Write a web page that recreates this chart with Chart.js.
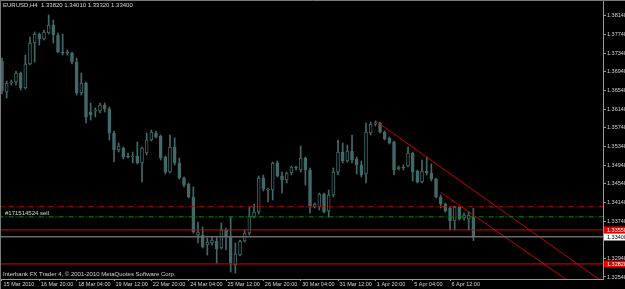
<!DOCTYPE html>
<html><head><meta charset="utf-8">
<script src="https://cdn.jsdelivr.net/npm/chart.js@4/dist/chart.umd.min.js"></script>
<style>html,body{margin:0;padding:0;background:#000;overflow:hidden}#wrap{width:625px;height:289px;position:relative}canvas{display:block}</style>
</head><body><div id="wrap"><canvas id="c" width="625" height="289"></canvas></div>
<script>
const symbolTitle = "EURUSD,H4";
const opens = [1.37169,1.36504,1.36697,1.36719,1.36912,1.36590,1.37104,1.37555,1.37747,1.37640,
1.37769,1.37940,1.37726,1.37362,1.37362,1.37340,1.37147,1.36483,1.36697,1.36076,
1.36097,1.36097,1.36226,1.36140,1.35626,1.35262,1.35304,1.35133,1.35111,1.35133,
1.34983,1.35197,1.35476,1.35626,1.35562,1.35111,1.34790,1.35326,1.34983,1.34661,
1.34533,1.34254,1.33440,1.33440,1.33226,1.33269,1.33311,1.33161,1.33547,1.33397,
1.32797,1.33011,1.33311,1.33483,1.33826,1.33933,1.34661,1.34404,1.34404,1.34983,
1.34704,1.34619,1.34769,1.34897,1.34833,1.35090,1.34833,1.34040,1.34040,1.34319,
1.33954,1.34297,1.34790,1.35219,1.35026,1.35240,1.35069,1.34940,1.34747,1.35626,
1.35819,1.35840,1.35647,1.35519,1.35433,1.34854,1.34897,1.34919,1.35197,1.34811,
1.34576,1.34811,1.34769,1.34640,1.34254,1.34104,1.34019,1.33740,1.34040,1.33804,
1.33783,1.33820];
const highs = [1.37233,1.36740,1.36762,1.36954,1.36933,1.37297,1.37683,1.37790,1.37769,1.37833,
1.38155,1.38047,1.37769,1.37747,1.37405,1.37362,1.37233,1.36912,1.36719,1.36269,
1.36162,1.36269,1.36269,1.36183,1.35669,1.35412,1.35326,1.35197,1.35219,1.35433,
1.35326,1.35626,1.35690,1.35669,1.35583,1.35133,1.35583,1.35519,1.35090,1.34683,
1.34554,1.34469,1.33719,1.33611,1.33376,1.33397,1.33397,1.33697,1.33590,1.33826,
1.33269,1.33333,1.33547,1.34040,1.34104,1.34704,1.34726,1.34447,1.35004,1.35026,
1.34790,1.34790,1.34919,1.34919,1.35347,1.35111,1.34876,1.34126,1.34340,1.34340,
1.34404,1.34876,1.35476,1.35412,1.35369,1.35583,1.35111,1.35026,1.35840,1.35862,
1.35883,1.35862,1.35669,1.35540,1.35454,1.34919,1.34940,1.35326,1.35219,1.34833,
1.35047,1.35111,1.34961,1.34661,1.34297,1.34126,1.34040,1.34061,1.34061,1.33911,
1.33933,1.34010];
const lows = [1.36462,1.36376,1.36654,1.36654,1.36547,1.36569,1.37083,1.37147,1.37512,1.37619,
1.37747,1.37555,1.37340,1.37297,1.37297,1.37104,1.36440,1.36440,1.35840,1.35904,
1.35969,1.36054,1.36076,1.35476,1.35004,1.35219,1.35069,1.35090,1.34983,1.34961,
1.34576,1.35154,1.35454,1.35519,1.35047,1.34747,1.34769,1.34940,1.34640,1.34469,
1.34233,1.33483,1.33269,1.33161,1.33011,1.33226,1.32840,1.33140,1.33119,1.32647,
1.32626,1.32990,1.33290,1.33440,1.33804,1.33890,1.34383,1.34147,1.34190,1.34683,
1.34340,1.34554,1.34726,1.34833,1.34790,1.34511,1.33911,1.34019,1.33976,1.33911,
1.33826,1.34254,1.34726,1.34983,1.35004,1.34983,1.34747,1.34683,1.34554,1.35583,
1.35776,1.35626,1.35476,1.35390,1.34726,1.34833,1.34833,1.34897,1.34597,1.34554,
1.34554,1.34726,1.34597,1.34233,1.34019,1.33933,1.33547,1.33547,1.33761,1.33761,
1.33547,1.33320];
const closes = [1.36526,1.36697,1.36719,1.36912,1.36590,1.37104,1.37555,1.37747,1.37640,1.37790,
1.37940,1.37726,1.37362,1.37340,1.37340,1.37147,1.36483,1.36697,1.35969,1.36012,
1.36119,1.36226,1.36140,1.35626,1.35262,1.35347,1.35111,1.35111,1.35133,1.34983,
1.35304,1.35476,1.35647,1.35540,1.35090,1.34790,1.35326,1.34983,1.34661,1.34511,
1.34254,1.33504,1.33504,1.33183,1.33290,1.33333,1.33140,1.33547,1.33397,1.32840,
1.33033,1.33311,1.33483,1.33847,1.33933,1.34661,1.34426,1.34426,1.34983,1.34704,
1.34619,1.34769,1.34897,1.34876,1.35090,1.34833,1.34040,1.34104,1.34319,1.33933,
1.34297,1.34790,1.35219,1.35026,1.35240,1.35047,1.34940,1.34726,1.35647,1.35819,
1.35840,1.35647,1.35497,1.35412,1.34833,1.34897,1.34876,1.35197,1.34790,1.34576,
1.34811,1.34769,1.34640,1.34254,1.34104,1.33954,1.33740,1.34040,1.33783,1.33869,
1.33869,1.33400];
const xTickIndex = [0,8,16,24,32,40,48,56,64,72,80,88,96];
const xTickLabels = ["15 Mar 2010","16 Mar 20:00","18 Mar 04:00","19 Mar 12:00","22 Mar 20:00","24 Mar 04:00","25 Mar 12:00","26 Mar 20:00","30 Mar 04:00","31 Mar 12:00","1 Apr 20:00","5 Apr 04:00","6 Apr 12:00"];
const yTicks = [1.32540,1.32940,1.33740,1.34140,1.34540,1.34940,1.35340,1.35740,1.36140,1.36540,1.36940,1.37340,1.37740,1.38140];
const stopLossPrice = 1.34050;
const orderPrice = 1.33830;
const orderLabel = "#171514524 sell";
const levelPrices = [1.33550, 1.32820];
const bidPrice = 1.33400;
const trend1 = [{x:80, y:1.35889}, {x:140, y:1.31635}];
const trend2 = [{x:94, y:1.34355}, {x:140, y:1.31163}];
const footerText = "Interbank FX Trader 4, \u00A9 2001-2010 MetaQuotes Software Corp.";

const TEAL = '#416a6a';
const FONT = '"Liberation Sans", Arial, sans-serif';
const FS_AXIS = 5.5;
const FS_TEXT = 6;
const TXT = '#d4d4d4';
const AXIS = '#9a9a9a';

const wickData = lows.map((l, i) => ({x: i, y: [l, highs[i]]}));
const bodyData = opens.map((o, i) => ({x: i, y: [o, closes[i]]}));
const bodyBg = opens.map((o, i) => closes[i] < o ? TEAL : '#000000');

function hline(v, color, dash, width) {
  return {type:'line', data:[{x:-5,y:v},{x:200,y:v}], borderColor:color, borderWidth:width||1,
    borderDash:dash||[], pointRadius:0, order:0};
}

const overlay = {
  id:'overlay',
  afterDraw(chart) {
    const ctx = chart.ctx, ys = chart.scales.y, ca = chart.chartArea;
    ctx.save();
    ctx.strokeStyle = '#7a7a7a'; ctx.lineWidth = 1;
    ctx.beginPath(); ctx.moveTo(0.5, 289); ctx.lineTo(0.5, 0.5); ctx.lineTo(625, 0.5); ctx.stroke();
    ctx.font = FS_TEXT + 'px ' + FONT; ctx.textBaseline = 'middle'; ctx.textAlign = 'left';
    ctx.fillStyle = TXT;
    const n = opens.length - 1;
    const head = symbolTitle + '  ' + [opens[n], highs[n], lows[n], closes[n]].map(v => v.toFixed(5)).join(' ');
    ctx.fillText(head, 3, 5.8);
    ctx.fillText(orderLabel, 5, ys.getPixelForValue(orderPrice) - 3.8);
    ctx.fillText(footerText, 3, 274);
    ctx.font = FS_AXIS + 'px ' + FONT;
    const tag = (v, bg, fg) => {
      const y = ys.getPixelForValue(v);
      ctx.fillStyle = bg; ctx.fillRect(ca.right + 1, Math.round(y) - 3.5, 30, 7);
      ctx.fillStyle = fg; ctx.fillText(v.toFixed(5), ca.right + 4, y + 0.3);
    };
    levelPrices.forEach(v => tag(v, '#e00000', '#ffffff'));
    tag(bidPrice, '#ffffff', '#000000');
    ctx.restore();
  }
};

new Chart(document.getElementById('c'), {
  data: {
    datasets: [
      {type:'bar', data: wickData, backgroundColor: TEAL, barThickness: 1, grouped:false, order:2, borderWidth:0},
      {type:'bar', data: bodyData, backgroundColor: bodyBg, borderColor: TEAL, borderWidth:1, borderSkipped:false,
       barThickness: 3, grouped:false, order:1, minBarLength:1},
      hline(stopLossPrice, '#9a0000', [5,2,1,2]),
      hline(orderPrice, '#008a00', [5,2,1,2]),
      hline(levelPrices[0], '#e00000'),
      hline(levelPrices[1], '#e00000'),
      hline(bidPrice, '#6a6a6a', [], 1.5),
      {type:'line', data: trend1, borderColor:'#c80000', borderWidth:1, pointRadius:0, order:0},
      {type:'line', data: trend2, borderColor:'#c80000', borderWidth:1, pointRadius:0, order:0}
    ]
  },
  options: {
    responsive:false, animation:false, devicePixelRatio:1,
    layout:{padding:{left:1, top:1, right:0, bottom:0}},
    plugins:{legend:{display:false}, tooltip:{enabled:false}},
    scales: {
      x: {
        type:'linear', min:-0.214, max:128.78, offset:false,
        afterBuildTicks: s => { s.ticks = xTickIndex.map(v => ({value:v})); },
        afterFit: s => { s.height = 10; s.paddingLeft = 0; s.paddingRight = 0; },
        ticks: {autoSkip:false, maxRotation:0, minRotation:0, align:'start', labelOffset:1.5, padding:0,
          color:TXT, font:{family:FONT, size:FS_AXIS}, callback:(v, i) => xTickLabels[i]},
        grid: {offset:false, drawOnChartArea:false, drawTicks:true, tickLength:2, tickColor:AXIS},
        border: {display:true, color:AXIS, width:1}
      },
      y: {
        type:'linear', position:'right', min:1.32497, max:1.38455, offset:false,
        afterBuildTicks: s => { s.ticks = yTicks.map(v => ({value:v})); },
        afterFit: s => { s.width = 22; s.paddingTop = 0; s.paddingBottom = 0; },
        ticks: {autoSkip:false, padding:1, color:TXT, font:{family:FONT, size:FS_AXIS}, callback:v => v.toFixed(5)},
        grid: {drawOnChartArea:false, drawTicks:true, tickLength:3, tickColor:AXIS},
        border: {display:true, color:AXIS, width:1}
      }
    }
  },
  plugins:[overlay]
});
</script></body></html>
